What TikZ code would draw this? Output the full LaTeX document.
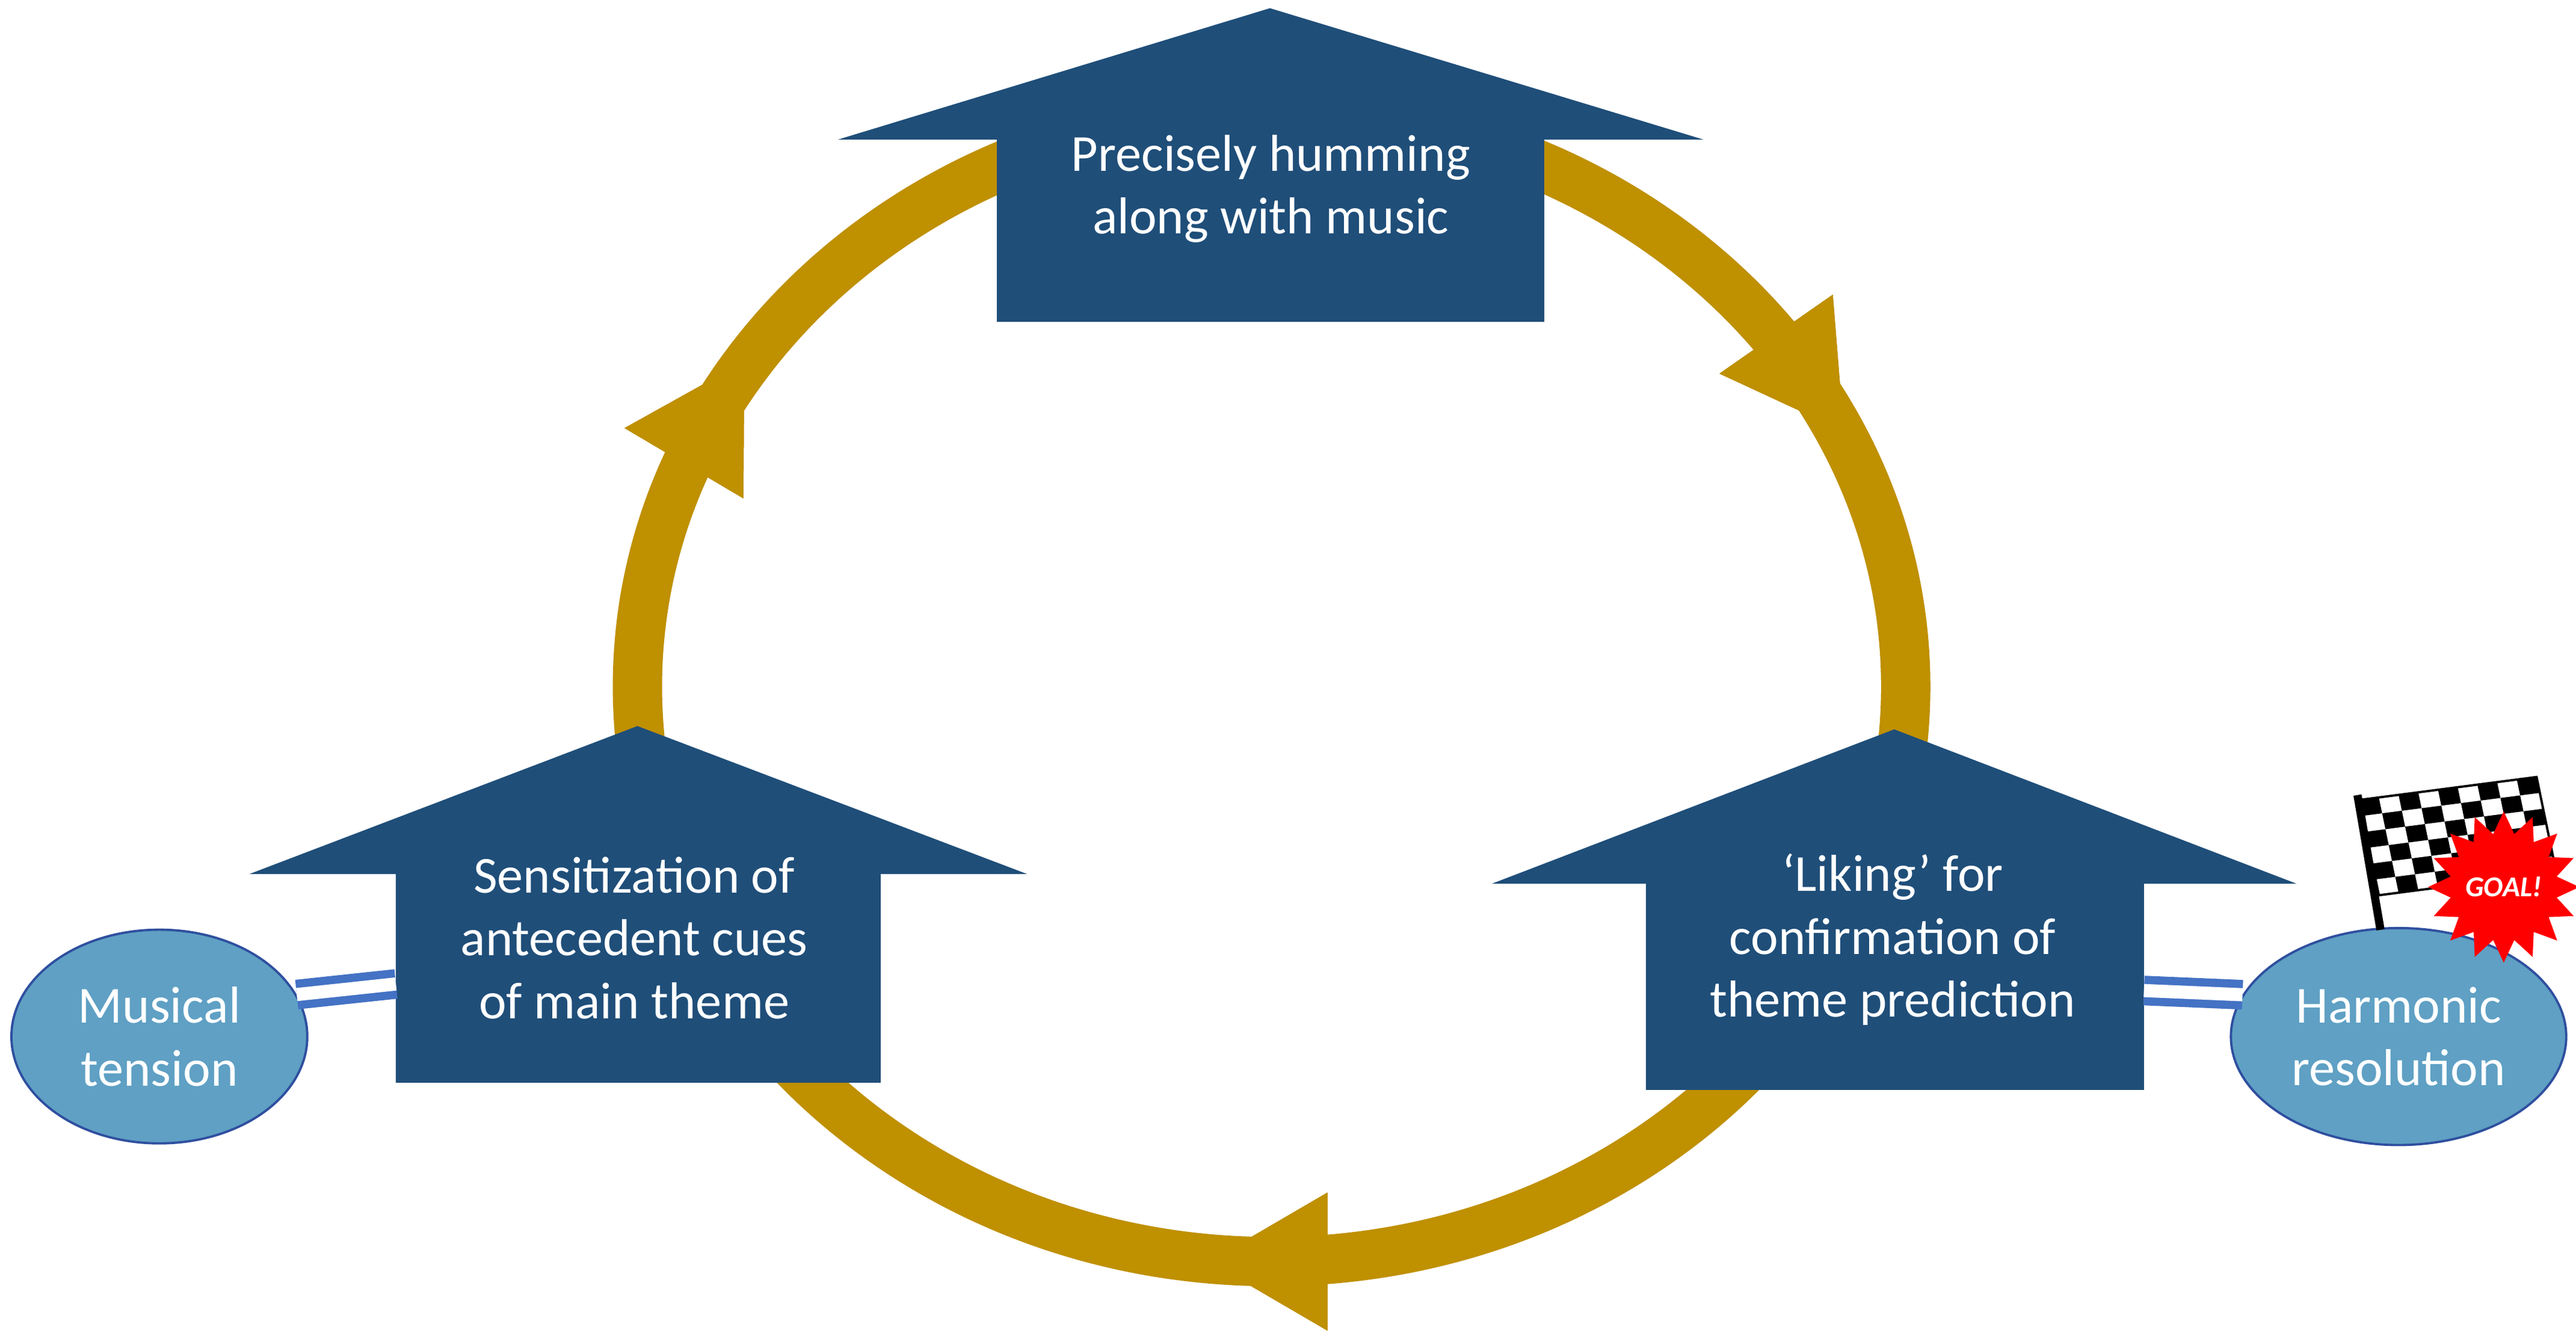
\documentclass[tikz,border=0pt]{standalone}
\usepackage{fontspec}
\setmainfont{Carlito}
\usetikzlibrary{shapes.geometric,decorations.markings}

\definecolor{boxblue}{HTML}{1F4E79}
\definecolor{ringgold}{HTML}{BF9000}
\definecolor{ovalblue}{HTML}{5FA0C4}
\definecolor{ovalline}{HTML}{2F4F9F}
\definecolor{linkblue}{HTML}{4472C4}

\tikzset{
  label text/.style={text=white, align=center, font=\fontsize{9}{10.9}\selectfont},
  body/.style={fill=boxblue, draw=none, rectangle},
  oval/.style={ellipse, fill=ovalblue, draw=ovalline, thin, label text},
  link/.style={draw=linkblue, double=white, double distance=0.8mm, line width=0.5mm},
  ring tip/.style={decoration={markings, mark=at position #1 with {
      \fill[ringgold] (0.38cm,0) -- (-0.34cm,0.42cm) -- (-0.34cm,-0.42cm) -- cycle;}},
      postaction={decorate}}
}

\begin{document}
\begin{tikzpicture}[x=0.01cm, y=-0.01cm]
  \useasboundingbox (0,0) rectangle (1568,815);

  % cycle
  \draw[ringgold, line width=0.3cm, ring tip=0.25, ring tip=0.575, ring tip=0.914]
    (1160,418) arc[start angle=0, end angle=360, x radius=386, y radius=350];

  % top arrow
  \fill[boxblue] (510,85) -- (773,5) -- (1037,85) -- cycle;
  \node[body, minimum width=3.33cm, minimum height=1.12cm] (hum) at (773.5,140) {};
  \node[label text] (humtxt) at (773.5,115) {Precisely humming\\along with music};

  % left arrow
  \fill[boxblue] (152,532) -- (388,442) -- (625,532) -- cycle;
  \node[body, minimum width=2.95cm, minimum height=1.28cm] (sens) at (388.5,595) {};
  \node[label text] (senstxt) at (386,571) {Sensitization of\\antecedent cues\\of main theme};

  % right arrow
  \fill[boxblue] (908,538) -- (1153,444) -- (1398,538) -- cycle;
  \node[body, minimum width=3.03cm, minimum height=1.27cm] (like) at (1153.5,600) {};
  \node[label text] (liketxt) at (1152,572) {‘Liking’ for\\confirmation of\\theme prediction};

  % ovals
  \node[oval, minimum width=1.8cm, minimum height=1.3cm, inner sep=0pt] (tension) at (97,631) {Musical\\tension};
  \node[oval, minimum width=2.04cm, minimum height=1.32cm, inner sep=0pt] (resol) at (1460,631) {Harmonic\\resolution};

  \coordinate (sensin) at (241,599);
  \coordinate (likein) at (1305,603);
  \draw[link] (tension.17) -- (sensin);
  \draw[link] (resol.165) -- (likein);

  % goal flag
  \draw[black, line width=0.5mm] (1449,566) -- (1435,484);
  \foreach \i in {0,...,8}{
    \foreach \j in {0,...,5}{
      \pgfmathsetmacro{\ua}{\i/9}
      \pgfmathsetmacro{\ub}{(\i+1)/9}
      \pgfmathsetmacro{\va}{\j/6}
      \pgfmathsetmacro{\vb}{(\j+1)/6}
      \pgfmathtruncatemacro{\odd}{mod(\i+\j,2)}
      \ifnum\odd=0
        \fill[black] (1436+108*\ua+12*\va, 487-14*\ua+58*\va)
          -- (1436+108*\ub+12*\va, 487-14*\ub+58*\va)
          -- (1436+108*\ub+12*\vb, 487-14*\ub+58*\vb)
          -- (1436+108*\ua+12*\vb, 487-14*\ua+58*\vb) -- cycle;
      \fi
    }
  }
  \draw[black, thin] (1436,487) -- (1544,473) -- (1556,531) -- (1448,545) -- cycle;
  \node[star, star points=16, star point ratio=1.4, fill=red, minimum size=0.66cm, inner sep=0pt,
        text=white, font=\bfseries\itshape\fontsize{5}{5}\selectfont] (goal) at (1524,540) {GOAL!};
\end{tikzpicture}
\end{document}
